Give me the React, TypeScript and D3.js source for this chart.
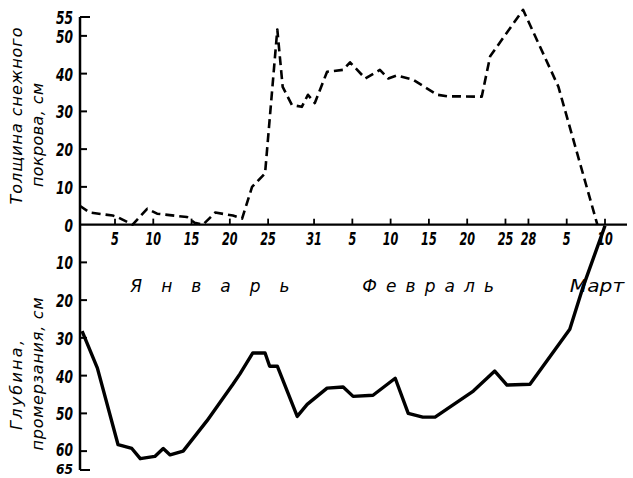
import React from "react";
import * as d3 from "d3";

// Day index: January d -> d, February d -> 31 + d, March d -> 59 + d
const snowDays = [0.4, 1.7, 4.7, 5.3, 7.3, 9.2, 10.5, 14.4, 15.4, 16.5, 18.1, 20.4, 21.6, 22.9, 24.6, 26.2, 26.9, 28.1, 29.4, 30.2, 31.1, 32.7, 34.8, 35.7, 37.7, 39.6, 40.7, 41.8, 43.9, 47.1, 48.4, 52.9, 54.0, 58.3, 62.9, 68.0];
const snowDepth = [5, 3.2, 2.4, 2, 0, 4.2, 2.9, 2, 0.5, 0, 3.2, 2.4, 1.6, 10, 13.6, 51.7, 36.5, 31.7, 31.2, 34.4, 32.2, 40.5, 41, 43, 38.7, 41, 38.7, 39.5, 38.4, 34.4, 34, 33.9, 44.6, 56.9, 36.6, 0];

const frostDays = [0.7, 2.7, 5.4, 7.2, 8.3, 10.2, 11.3, 12.2, 13.9, 17.0, 20.4, 21.3, 23.0, 24.6, 25.2, 26.2, 28.8, 30.1, 32.7, 34.8, 36.1, 38.7, 41.6, 43.3, 45.2, 46.8, 51.8, 54.6, 56.2, 59.2, 64.4, 66.1, 69.0];
const frostDepth = [28.2, 38, 58.3, 59.3, 62, 61.4, 59.3, 61, 60, 52, 42.3, 39.6, 34, 34, 37.5, 37.5, 50.8, 47.6, 43.3, 43, 45.5, 45.2, 40.7, 50, 51, 51, 44.1, 38.8, 42.5, 42.3, 27.7, 16.7, 0.3];

const xTickDays = [5, 10, 15, 20, 25, 31, 36, 41, 46, 51, 56, 59, 64, 69];
const xTickLabels = ["5", "10", "15", "20", "25", "31", "5", "10", "15", "20", "25", "28", "5", "10"];

const yTicks = [55, 50, 40, 30, 20, 10, 0, -10, -20, -30, -40, -50, -60, -65];

const months = ["Январь", "Февраль", "Март"];
const monthStart = [7.0, 37.3, 64.4];
const monthEnd = [27.8, 54.5, 71.5];

const topTitle = ["Толщина снежного", "покрова, см"];
const bottomTitle = ["Глубина,", "промерзания, см"];

const FONT = "'DejaVu Sans', sans-serif";

export default function App() {
  const x = d3.scaleLinear().domain([5, 69]).range([115, 605]);
  const y = d3.scaleLinear().domain([-65, 55]).range([470, 17]);
  const axisX = 80;
  const y0 = y(0);

  const snowLine = d3
    .line<number>()
    .x((_, i) => x(snowDays[i]))
    .y((d) => y(d));
  const frostLine = d3
    .line<number>()
    .x((_, i) => x(frostDays[i]))
    .y((d) => y(-d));

  return (
    <svg
      width={633}
      height={478}
      style={{ position: "absolute", left: 0, top: 0, background: "#fff" }}
      fontFamily={FONT}
    >
      {/* axes */}
      <line x1={axisX} x2={axisX} y1={y(55)} y2={y(-65)} stroke="#000" strokeWidth={2.5} />
      <line x1={axisX} x2={627} y1={y0} y2={y0} stroke="#000" strokeWidth={2.2} />

      {yTicks.map((t) => {
        const lab = String(Math.abs(t));
        const last = t === -65;
        return (
          <g key={t}>
            {t !== 0 && (
              <line
                x1={axisX}
                x2={axisX + (t === 55 || last ? 10 : 7)}
                y1={y(t)}
                y2={y(t)}
                stroke="#000"
                strokeWidth={2}
              />
            )}
            <text
              x={73}
              y={last ? 474 : t === -60 ? y(t) + 5 : y(t) + 7}
              textAnchor="end"
              fontSize={last ? 14 : 17}
              fontStyle="italic"
              fontWeight="bold"
              textLength={lab.length * 8.5}
              lengthAdjust="spacingAndGlyphs"
            >
              {lab}
            </text>
          </g>
        );
      })}

      {xTickDays.map((d, i) => (
        <g key={i}>
          <line x1={x(d)} x2={x(d)} y1={y0} y2={y0 - 6} stroke="#000" strokeWidth={1.8} />
          <text
            x={x(d)}
            y={245}
            textAnchor="middle"
            fontSize={17}
            fontStyle="italic"
            fontWeight="bold"
            textLength={xTickLabels[i].length * 7.8}
            lengthAdjust="spacingAndGlyphs"
          >
            {xTickLabels[i]}
          </text>
        </g>
      ))}

      {months.map((m, i) => (
        <text
          key={m}
          x={x(monthStart[i])}
          y={292}
          fontSize={17}
          fontStyle="italic"
          textLength={x(monthEnd[i]) - x(monthStart[i])}
          lengthAdjust={i === 2 ? "spacingAndGlyphs" : "spacing"}
        >
          {m}
        </text>
      ))}

      {/* axis titles */}
      <text
        transform={`translate(22,116) rotate(-90)`}
        textAnchor="middle"
        fontSize={16}
        fontStyle="italic"
        textLength={177}
        lengthAdjust="spacing"
      >
        {topTitle[0]}
      </text>
      <text
        transform={`translate(43,135) rotate(-90)`}
        textAnchor="middle"
        fontSize={16}
        fontStyle="italic"
        textLength={104}
        lengthAdjust="spacing"
      >
        {topTitle[1]}
      </text>
      <text
        transform={`translate(22,385) rotate(-90)`}
        textAnchor="middle"
        fontSize={16}
        fontStyle="italic"
        textLength={90}
        lengthAdjust="spacing"
      >
        {bottomTitle[0]}
      </text>
      <text
        transform={`translate(43,374) rotate(-90)`}
        textAnchor="middle"
        fontSize={16}
        fontStyle="italic"
        textLength={153}
        lengthAdjust="spacing"
      >
        {bottomTitle[1]}
      </text>

      {/* curves */}
      <path
        d={snowLine(snowDepth) || ""}
        fill="none"
        stroke="#000"
        strokeWidth={2.6}
        strokeDasharray="9 5"
        strokeLinejoin="round"
      />
      <path
        d={frostLine(frostDepth) || ""}
        fill="none"
        stroke="#000"
        strokeWidth={3.4}
        strokeLinejoin="round"
      />
    </svg>
  );
}
